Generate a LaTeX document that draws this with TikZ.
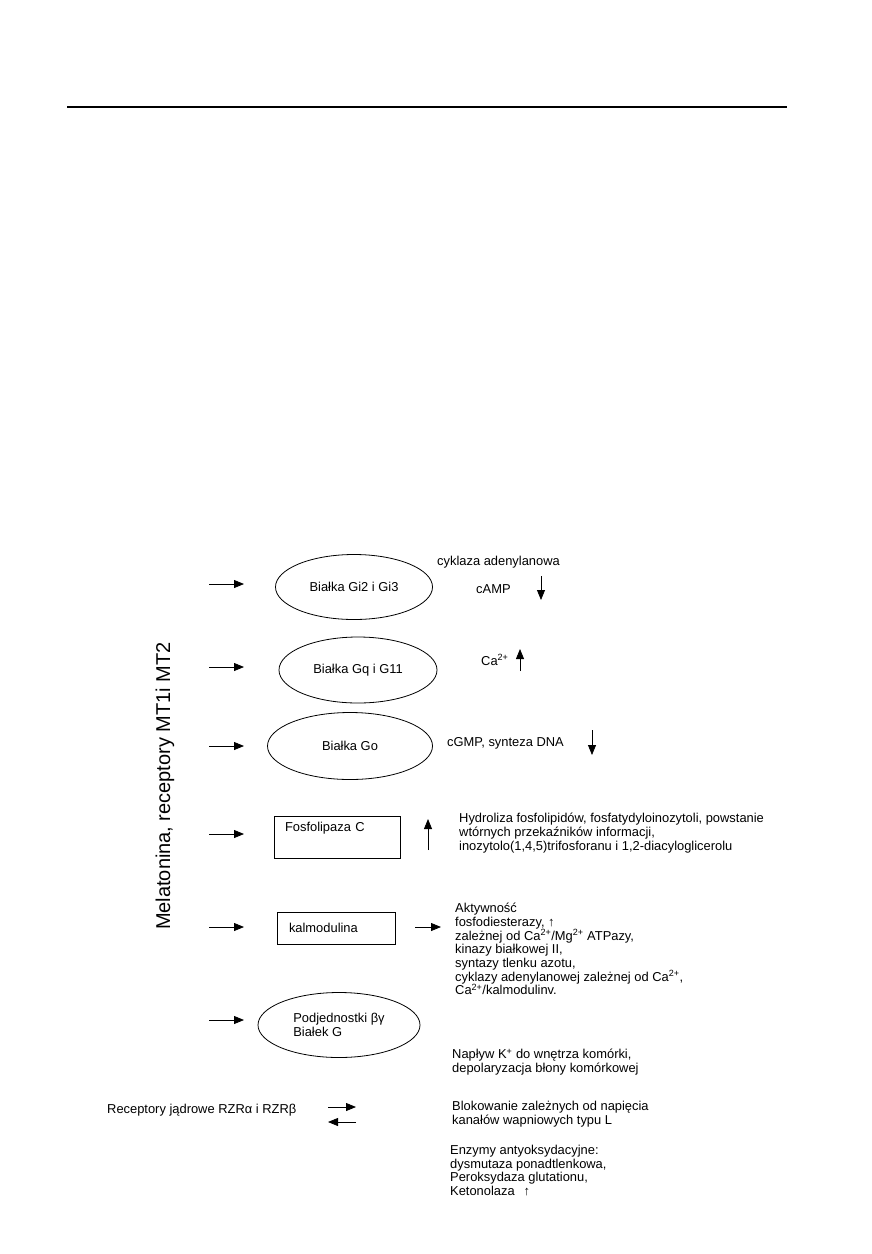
\documentclass[tikz,border=0pt]{standalone}
\usepackage{fontspec}
\setmainfont{Liberation Sans}
\usetikzlibrary{shapes.geometric,arrows.meta,positioning}
\tikzset{
  arr/.style={-{Triangle[length=10pt,width=8pt]},line width=0.8pt},
  oval/.style={draw,ellipse,line width=0.8pt,inner sep=0pt},
  box/.style={draw,rectangle,line width=0.8pt,align=left,inner ysep=3pt},
  txt/.style={align=left,inner sep=0pt,anchor=north west},
  one/.style={inner sep=0pt,anchor=west}
}
\newcommand{\sups}[1]{\textsuperscript{#1}}
\begin{document}
\begin{tikzpicture}[x=1pt,y=-1pt,font=\fontsize{12.9}{13.7}\selectfont]
\useasboundingbox (0,0) rectangle (872,1254);
\draw[line width=1.1pt] (67,107) -- (787,107);
\node[rotate=90,font=\fontsize{20}{24}\selectfont] (mel) at (165,786) {Melatonina, receptory MT1i MT2};

\node[oval,minimum width=157,minimum height=65] (gi) at (354,587) {Białka Gi2 i Gi3};
\node[oval,minimum width=158,minimum height=66] (gq) at (358,670) {Białka Gq i G11};
\node[oval,minimum width=165,minimum height=67] (go) at (350,746) {Białka Go};
\node[box,minimum height=42,inner xsep=11,text width=104,text depth=21] (plc) at (337,837) {Fosfolipaza C};
\node[box,minimum height=32,inner xsep=12,text width=94] (kal) at (336,928) {kalmodulina};
\node[oval,minimum width=162,minimum height=65,align=left] (bg) at (339,1025) {Podjednostki βγ\\Białek G};

\foreach \n/\y in {1/584,2/667,3/746,4/834,5/927,6/1020}{
  \coordinate (s\n) at (209,\y);
  \coordinate (e\n) at (244,\y);
  \draw[arr] (s\n) -- (e\n);
}

\node[one] (cyk) at (437,562) {cyklaza adenylanowa};
\node[one] (camp) at (476,589) {cAMP};
\node[one] (ca) at (481,660) {Ca\sups{2+}};
\node[one] (cgmp) at (447,743) {cGMP, synteza DNA};
\node[txt] (hydro) at (459,813) {Hydroliza fosfolipidów, fosfatydyloinozytoli, powstanie\\wtórnych przekaźników informacji,\\inozytolo(1,4,5)trifosforanu i 1,2-diacyloglicerolu};
\node[txt] (akt) at (455,903) {Aktywność\\fosfodiesterazy, ↑\\zależnej od Ca\sups{2+}/Mg\sups{2+} ATPazy,\\kinazy białkowej II,\\syntazy tlenku azotu,\\cyklazy adenylanowej zależnej od Ca\sups{2+},\\Ca\sups{2+}/kalmodulinv.};
\node[txt] (napl) at (452,1049) {Napływ K\sups{+} do wnętrza komórki,\\depolaryzacja błony komórkowej};
\node[txt] (blok) at (452,1101) {Blokowanie zależnych od napięcia\\kanałów wapniowych typu L};
\node[txt] (enz) at (450,1145) {Enzymy antyoksydacyjne:\\dysmutaza ponadtlenkowa,\\Peroksydaza glutationu,\\Ketonolaza\hspace{9pt}↑};
\node[one] (rzr) at (107,1110) {Receptory jądrowe RZRα i RZRβ};

\coordinate (campa) at (541,576);
\coordinate (campb) at (541,600);
\draw[arr] (campa) -- (campb);
\coordinate (caa) at (520,671);
\coordinate (cab) at (520,649);
\draw[arr] (caa) -- (cab);
\coordinate (cgmpa) at (592,730);
\coordinate (cgmpb) at (592,755);
\draw[arr] (cgmpa) -- (cgmpb);
\coordinate (plca) at (428,850);
\coordinate (plcb) at (428,819);
\draw[arr] (plca) -- (plcb);
\coordinate (kala) at (415,927);
\coordinate (kalb) at (441,927);
\draw[arr] (kala) -- (kalb);
\coordinate (rzra) at (328,1107);
\coordinate (rzrb) at (356,1107);
\draw[arr] (rzra) -- (rzrb);
\coordinate (rzrc) at (356,1122);
\coordinate (rzrd) at (328,1122);
\draw[arr] (rzrc) -- (rzrd);
\end{tikzpicture}
\end{document}
